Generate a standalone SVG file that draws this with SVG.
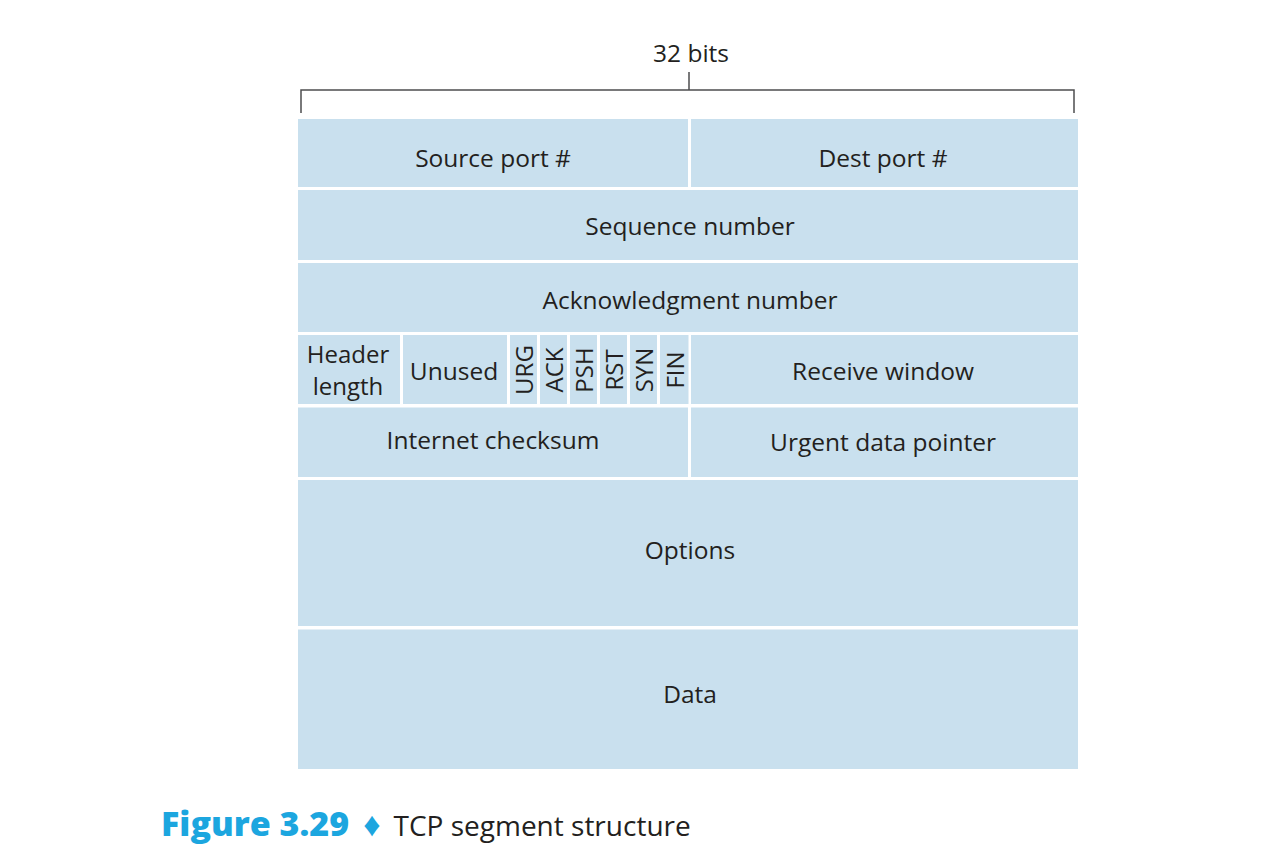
<svg xmlns="http://www.w3.org/2000/svg" width="1277" height="850" viewBox="0 0 1277 850">
  <style>
    .cell { fill: #c9e0ee; }
    .lbl { font-family: "Open Sans", "Noto Sans", sans-serif; font-size: 24.5px; fill: #231f20; text-anchor: middle; dominant-baseline: central; }
    .two-line { font-size: 24px; }
    .flag { font-family: "Open Sans", "Noto Sans", sans-serif; font-size: 24px; fill: #231f20; text-anchor: middle; dominant-baseline: central; }
    .bracket { fill: none; stroke: #4d4d4f; stroke-width: 1.5; }
    .cap-num { font-family: "Open Sans", "Noto Sans", sans-serif; font-size: 34px; font-weight: 800; fill: #1ca6df; }
    .cap-txt { font-family: "Open Sans", "Noto Sans", sans-serif; font-size: 28px; fill: #231f20; }
  </style>
  <rect width="1277" height="850" fill="#ffffff"/>

  <!-- width bracket above the header -->
  <g id="width-bracket">
    <path class="bracket" d="M301 113 V90 H1074 V113 M689 90 V72"/>
    <text class="lbl" x="691" y="52">32 bits</text>
  </g>

  <!-- row 1: ports -->
  <g id="source-port">
    <rect class="cell" x="298" y="119" width="390" height="68"/>
    <text class="lbl" x="493" y="157">Source port #</text>
  </g>
  <g id="dest-port">
    <rect class="cell" x="691" y="119" width="387" height="68"/>
    <text class="lbl" x="883" y="157">Dest port #</text>
  </g>

  <!-- row 2 -->
  <g id="sequence-number">
    <rect class="cell" x="298" y="190" width="780" height="70"/>
    <text class="lbl" x="690" y="225">Sequence number</text>
  </g>

  <!-- row 3 -->
  <g id="ack-number">
    <rect class="cell" x="298" y="263" width="780" height="69"/>
    <text class="lbl" x="690" y="299">Acknowledgment number</text>
  </g>

  <!-- row 4: header length, unused bits, flags, receive window -->
  <g id="header-length">
    <rect class="cell" x="298" y="335" width="102" height="69"/>
    <text class="lbl two-line" x="348" y="353">Header</text>
    <text class="lbl two-line" x="348" y="385">length</text>
  </g>
  <g id="unused">
    <rect class="cell" x="403" y="335" width="104" height="69"/>
    <text class="lbl" x="454" y="370">Unused</text>
  </g>
  <g id="flag-urg">
    <rect class="cell" x="510" y="335" width="27" height="69"/>
    <text class="flag" transform="translate(523.5 370) rotate(-90)">URG</text>
  </g>
  <g id="flag-ack">
    <rect class="cell" x="540" y="335" width="27" height="69"/>
    <text class="flag" transform="translate(553.5 370) rotate(-90)">ACK</text>
  </g>
  <g id="flag-psh">
    <rect class="cell" x="570" y="335" width="27" height="69"/>
    <text class="flag" transform="translate(583.5 370) rotate(-90)">PSH</text>
  </g>
  <g id="flag-rst">
    <rect class="cell" x="600" y="335" width="27" height="69"/>
    <text class="flag" transform="translate(613.5 370) rotate(-90)">RST</text>
  </g>
  <g id="flag-syn">
    <rect class="cell" x="630" y="335" width="27" height="69"/>
    <text class="flag" transform="translate(643.5 370) rotate(-90)">SYN</text>
  </g>
  <g id="flag-fin">
    <rect class="cell" x="660" y="335" width="28.5" height="69"/>
    <text class="flag" transform="translate(674 370) rotate(-90)">FIN</text>
  </g>
  <g id="receive-window">
    <rect class="cell" x="691" y="335" width="387" height="69"/>
    <text class="lbl" x="883" y="370">Receive window</text>
  </g>

  <!-- row 5 -->
  <g id="checksum">
    <rect class="cell" x="298" y="407.5" width="390" height="69.5"/>
    <text class="lbl" x="493" y="439">Internet checksum</text>
  </g>
  <g id="urgent-pointer">
    <rect class="cell" x="691" y="407.5" width="387" height="69.5"/>
    <text class="lbl" x="883" y="441">Urgent data pointer</text>
  </g>

  <!-- row 6 -->
  <g id="options">
    <rect class="cell" x="298" y="480" width="780" height="146"/>
    <text class="lbl" x="690" y="549">Options</text>
  </g>

  <!-- row 7 -->
  <g id="data">
    <rect class="cell" x="298" y="629.5" width="780" height="139.5"/>
    <text class="lbl" x="690" y="693">Data</text>
  </g>

  <!-- caption -->
  <g id="caption">
    <text x="161" y="836"><tspan class="cap-num">Figure 3.29</tspan><tspan class="cap-num" dx="14" font-size="28">♦</tspan><tspan class="cap-txt" dx="13">TCP segment structure</tspan></text>
  </g>
</svg>
